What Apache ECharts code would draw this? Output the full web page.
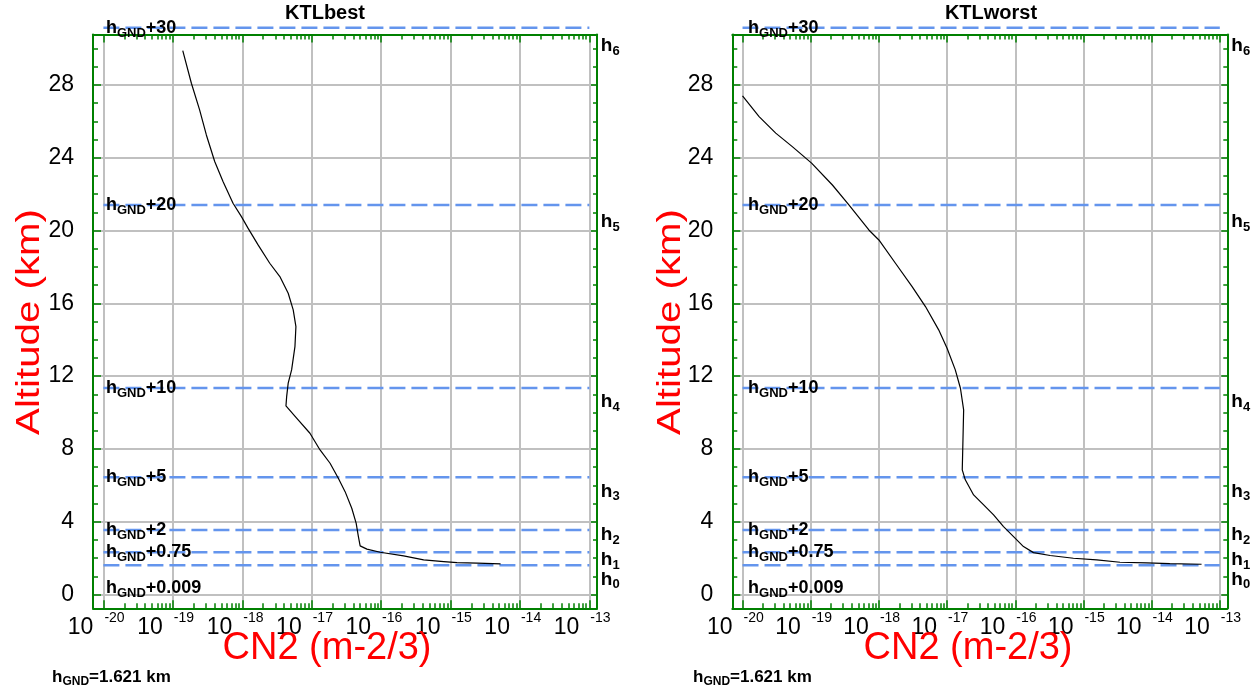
<!DOCTYPE html>
<html>
<head>
<meta charset="utf-8">
<script src="https://cdn.jsdelivr.net/npm/echarts@6/dist/echarts.min.js"></script>
<style>
  html, body { margin: 0; padding: 0; background: #fff; }
  #chart { width: 1258px; height: 694px; }
</style>
</head>
<body>
<div id="chart"></div>
<script>
// CN2 profiles, altitude in km, CN2 in m^-2/3
const bestAlt = [29.88, 28.09, 26.63, 25.25, 23.79, 22.69, 21.50, 20.76, 20.13, 19.21, 18.20, 17.47, 16.55, 15.64,
  14.72, 13.62, 12.34, 11.61, 10.87, 10.36, 9.69, 8.86, 7.94, 7.21, 6.39, 5.65, 4.74, 3.92, 3.18, 2.67, 2.49,
  2.32, 2.12, 1.90, 1.81, 1.75, 1.72, 1.68]
const bestCn2 = [1.39e-19, 1.85e-19, 2.43e-19, 3.04e-19, 4.01e-19, 5.28e-19, 7.36e-19, 9.73e-19, 1.21e-18, 1.69e-18,
  2.49e-18, 3.48e-18, 4.59e-18, 5.42e-18, 5.93e-18, 5.74e-18, 5.14e-18, 4.59e-18, 4.36e-18, 4.26e-18, 6.07e-18,
  9.44e-18, 1.32e-17, 1.84e-17, 2.42e-17, 3.03e-17, 3.78e-17, 4.37e-17, 4.71e-17, 4.99e-17, 6.24e-17, 9.7e-17,
  2.11e-16, 4.10e-16, 7.98e-16, 1.24e-15, 2.42e-15, 5.26e-15]

const worstAlt = [27.40, 26.26, 25.35, 24.61, 23.70, 22.50, 21.41, 20.03, 19.48, 18.20, 16.92, 15.82, 14.54, 13.53,
  12.34, 11.33, 10.14, 8.49, 6.85, 6.30, 5.47, 4.92, 4.37, 3.73, 3.18, 2.63, 2.30, 2.14, 1.99, 1.90, 1.77, 1.74,
  1.70, 1.66]
const worstCn2 = [1.0e-20, 1.75e-20, 3.07e-20, 5.37e-20, 1.03e-19, 2.08e-19, 3.63e-19, 7.13e-19, 1.0e-18, 1.75e-18,
  3.07e-18, 4.82e-18, 7.53e-18, 1.0e-17, 1.32e-17, 1.57e-17, 1.75e-17, 1.71e-17, 1.67e-17, 1.85e-17, 2.45e-17,
  3.44e-17, 4.81e-17, 6.73e-17, 9.44e-17, 1.32e-16, 1.85e-16, 3.25e-16, 7.13e-16, 1.57e-15, 3.44e-15, 8.45e-15,
  1.85e-14, 5.40e-14]

// reference levels hGND + offset, as drawn
const levelAlt = [31.14, 21.40, 11.35, 6.44, 3.54, 2.32, 1.60]
const levelText = ['+30', '+20', '+10', '+5', '+2', '+0.75', '+0.009']
const levelName = ['6', '5', '4', '3', '2', '1', '0']
const levelFrom = 1e-20
const levelTo = 1e-13

const titles = ['KTLbest', 'KTLworst']
const hGround = '1.621 km'
const decades = [-20, -19, -18, -17, -16, -15, -14, -13]
const altTicks = [0, 4, 8, 12, 16, 20, 24, 28]

const FONT = "'Liberation Sans', Arial, sans-serif"
const GREEN = '#008000'
const GRAY = '#c0c0c0'
const BLUE = '#6495ed'

const xMin = Math.pow(10, -20.15)
const xMax = Math.pow(10, -12.89)
const yMin = -0.76
const yMax = 30.77

const majorX = decades.map(e => Math.pow(10, e))
const minorX = []
decades.slice(0, -1).forEach(e => {
  for (let k = 2; k <= 9; k++) minorX.push(k * Math.pow(10, e))
})
const minorY = []
for (let i = 0; i <= 30; i++) minorY.push(i)

const grids = [
  { left: 93, right: 661, top: 34.5, bottom: 85.7 },
  { left: 732.3, right: 30.7, top: 34.5, bottom: 85.7 }
]
const leftLabelGap = [2, 5]
// vertical nudges of the level labels (px)
const leftLabelDy = [0, 0, 0, 0, 0, 0, 23]
const rightLabelDy = [18, 17, 14, 14, 5, 8, 14]

const tick = (len, vals) => ({
  show: true, inside: true, length: len, customValues: vals,
  lineStyle: { color: GREEN, width: 1.5 }
})
const frameLine = { show: true, onZero: false, lineStyle: { color: GREEN, width: 2 } }
const noLine = { show: false, onZero: false }

const xAxis = []
const yAxis = []
const series = []

grids.forEach((g, p) => {
  const bx = { type: 'log', logBase: 10, gridIndex: p, min: xMin, max: xMax }
  xAxis.push(
    // "10" part of the decade labels
    { ...bx, position: 'bottom', axisLine: frameLine, axisTick: tick(8, majorX),
      axisLabel: {
        customValues: majorX, margin: 8, color: '#000', fontFamily: FONT, fontSize: 23,
        showMinLabel: true, showMaxLabel: true, align: 'right', padding: [0, 10, 0, 0],
        formatter: () => '10'
      },
      splitLine: { show: true, lineStyle: { color: GRAY, width: 2 } } },
    // minor ticks + exponent part of the labels
    { ...bx, position: 'bottom', axisLine: noLine, axisTick: tick(5, minorX),
      axisLabel: {
        customValues: majorX, margin: 3, color: '#000', fontFamily: FONT, fontSize: 14,
        showMinLabel: true, showMaxLabel: true, align: 'left', padding: [0, 0, 0, 1],
        formatter: v => String(Math.round(Math.log10(v)))
      },
      splitLine: { show: false } },
    { ...bx, position: 'top', axisLine: frameLine, axisTick: tick(8, majorX), axisLabel: { show: false }, splitLine: { show: false } },
    { ...bx, position: 'top', axisLine: noLine, axisTick: tick(5, minorX), axisLabel: { show: false }, splitLine: { show: false } }
  )
  const by = { type: 'value', gridIndex: p, min: yMin, max: yMax }
  yAxis.push(
    { ...by, position: 'left', axisLine: frameLine, axisTick: tick(8, altTicks),
      axisLabel: { customValues: altTicks, fontSize: 23, color: '#000', fontFamily: FONT, margin: 19 },
      splitLine: { show: true, lineStyle: { color: GRAY, width: 2 } } },
    { ...by, position: 'left', axisLine: noLine, axisTick: tick(5, minorY), axisLabel: { show: false }, splitLine: { show: false } },
    { ...by, position: 'right', axisLine: frameLine, axisTick: tick(6, altTicks), axisLabel: { show: false }, splitLine: { show: false } },
    { ...by, position: 'right', axisLine: noLine, axisTick: tick(4, minorY), axisLabel: { show: false }, splitLine: { show: false } }
  )

  const xi = p * 4
  const yi = p * 4
  levelAlt.forEach(a => {
    series.push({
      type: 'line', xAxisIndex: xi, yAxisIndex: yi, clip: false, silent: true,
      data: [[levelFrom, a], [levelTo, a]], symbol: 'none', z: 3,
      lineStyle: { color: BLUE, width: 2.5, type: [16, 6] }
    })
  })
  const alt = p === 0 ? bestAlt : worstAlt
  const cn2 = p === 0 ? bestCn2 : worstCn2
  series.push({
    type: 'line', xAxisIndex: xi, yAxisIndex: yi, symbol: 'none', z: 5,
    data: cn2.map((c, i) => [c, alt[i]]),
    lineStyle: { color: '#000', width: 1.2 }
  })
  const subRich = (big) => ({
    h: { fontSize: big, fontWeight: 'bold', lineHeight: 24, verticalAlign: 'middle', color: '#000', fontFamily: FONT },
    s: { fontSize: 13, fontWeight: 'bold', lineHeight: 13, verticalAlign: 'bottom', color: '#000', fontFamily: FONT }
  })
  const labelSeries = (xv, dy, dist, fmt, big) => ({
    type: 'scatter', xAxisIndex: xi, yAxisIndex: yi, clip: false, symbolSize: 1, z: 6, silent: true,
    itemStyle: { color: 'rgba(0,0,0,0)' },
    data: levelAlt.map((a, i) => ({ value: [xv, a], label: { offset: [0, dy[i]] } })),
    label: {
      show: true, position: 'right', distance: dist, color: '#000', opacity: 1,
      textBorderWidth: 0, formatter: fmt, rich: subRich(big)
    }
  })
  series.push(labelSeries(levelFrom, leftLabelDy, leftLabelGap[p],
    d => '{h|h}{s|GND}{h|' + levelText[d.dataIndex] + '}', 18))
  series.push(labelSeries(levelTo, rightLabelDy, 11,
    d => '{h|h}{s|' + levelName[d.dataIndex] + '}', 19))
})

const groundRich = {
  h: { fontSize: 17, fontWeight: 'bold', lineHeight: 22, verticalAlign: 'middle', color: '#000', fontFamily: FONT },
  s: { fontSize: 12, fontWeight: 'bold', lineHeight: 12, verticalAlign: 'bottom', color: '#000', fontFamily: FONT }
}

const title = [
  { text: titles[0], left: 325, top: 3, textAlign: 'center', padding: 0,
    textStyle: { fontSize: 20, fontWeight: 'bold', color: '#000', fontFamily: FONT } },
  { text: titles[1], left: 991, top: 3, textAlign: 'center', padding: 0,
    textStyle: { fontSize: 20, fontWeight: 'bold', color: '#000', fontFamily: FONT } },
  { text: 'CN2 (m-2/3)', left: 327, top: 630, textAlign: 'center', padding: 0,
    textStyle: { fontSize: 38, fontWeight: 'normal', color: '#ff0000', fontFamily: FONT } },
  { text: 'CN2 (m-2/3)', left: 968, top: 630, textAlign: 'center', padding: 0,
    textStyle: { fontSize: 38, fontWeight: 'normal', color: '#ff0000', fontFamily: FONT } },
  { text: '{h|h}{s|GND}{h|=' + hGround + '}', left: 52, top: 666, padding: 0, textStyle: { rich: groundRich } },
  { text: '{h|h}{s|GND}{h|=' + hGround + '}', left: 693, top: 666, padding: 0, textStyle: { rich: groundRich } }
]

// rotated axis names, stretched along the text like the original
const axisName = (x) => ({
  type: 'text', x: x, y: 322, rotation: Math.PI / 2, scaleX: 1.22, z: 10,
  style: { text: 'Altitude (km)', fill: '#ff0000', font: '33px ' + FONT, align: 'center', verticalAlign: 'middle' }
})

const chart = echarts.init(document.getElementById('chart'))
chart.setOption({
  animation: false,
  backgroundColor: '#fff',
  title: title,
  grid: grids,
  xAxis: xAxis,
  yAxis: yAxis,
  series: series,
  graphic: [axisName(30), axisName(671)]
})
</script>
</body>
</html>
